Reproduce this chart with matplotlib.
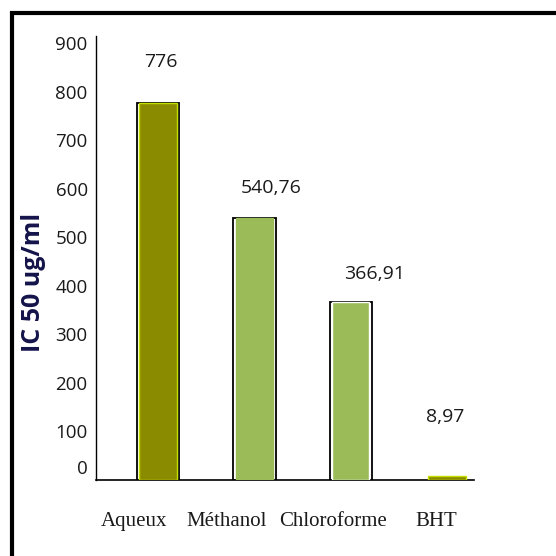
import matplotlib
matplotlib.use("Agg")
import matplotlib.pyplot as plt
import matplotlib.transforms as mtransforms
from matplotlib.patches import Rectangle

categories = ["Aqueux", "Méthanol", "Chloroforme", "BHT"]
ic50 = [776, 540.76, 366.91, 8.97]
value_labels = ["776", "540,76", "366,91", "8,97"]
yticks = [0, 100, 200, 300, 400, 500, 600, 700, 800, 900]

fills = ["#8b8b00", "#9bbb59", "#9bbb59", "#8b8b00"]
inner_edges = ["#c4e000", "#9bbb59", "#ffffff", "#c4e000"]
outer_edges = ["black", "black", "black", "none"]
# per-label offsets in points (dx, dy)
value_offsets = [(2, 30), (12, 21), (17, 20), (-1, 42)]
cat_offsets = [(-17, -30), (-20, -30), (-13, -30), (-8, -30)]

W = 556
fig = plt.figure(figsize=(W / 100, W / 100), dpi=100)
fig.patch.set_facecolor("white")

# outer frame
fig.add_artist(Rectangle((12 / W, -0.2), 1.3, 1 - 12.5 / W + 0.2,
                         transform=fig.transFigure, fill=False,
                         edgecolor="black", linewidth=3.0, zorder=0))

ax = fig.add_axes([96 / W, 76 / W, (474 - 96) / W, (480 - 36) / W])
ax.set_xlim(-0.644, 3.28)
ax.set_ylim(0, 915)

x = list(range(len(categories)))
ax.bar(x, ic50, width=0.44, color="white", edgecolor=outer_edges,
       linewidth=1.3, zorder=2)
ax.bar(x, ic50, width=0.39, color=fills, edgecolor=inner_edges,
       linewidth=1.0, zorder=3)

for xi, v, txt, (dx, dy) in zip(x, ic50, value_labels, value_offsets):
    ax.annotate(txt, xy=(xi, v), xytext=(dx, dy), textcoords="offset points",
                ha="center", va="center", fontsize=14,
                family="Open Sans", color="#1a1a1a")

for xi, name, (dx, dy) in zip(x, categories, cat_offsets):
    ax.annotate(name, xy=(xi, 0), xytext=(dx, dy), textcoords="offset points",
                ha="center", va="center", fontsize=15,
                family="Liberation Serif", color="#1a1a1a",
                annotation_clip=False)

ax.set_xticks([])
ax.set_yticks(yticks)
ax.set_yticklabels([str(t) for t in yticks], family="Open Sans",
                   fontsize=13.5, color="#1a1a1a")
ax.tick_params(axis="y", length=0, pad=6)
zero_label = ax.get_yticklabels()[0]
zero_label.set_transform(zero_label.get_transform() +
                         mtransforms.ScaledTranslation(0, 13 / 100,
                                                       fig.dpi_scale_trans))

for side in ["top", "right"]:
    ax.spines[side].set_visible(False)
ax.spines["left"].set_linewidth(1.0)
ax.spines["bottom"].set_linewidth(1.2)

fig.text(34 / W, 1 - 282 / W, "IC 50 ug/ml", rotation=90, ha="center",
         va="center", fontsize=18, fontweight="bold", family="Open Sans",
         color="#14144a")

fig.savefig("out.png", dpi=100, facecolor="white")
